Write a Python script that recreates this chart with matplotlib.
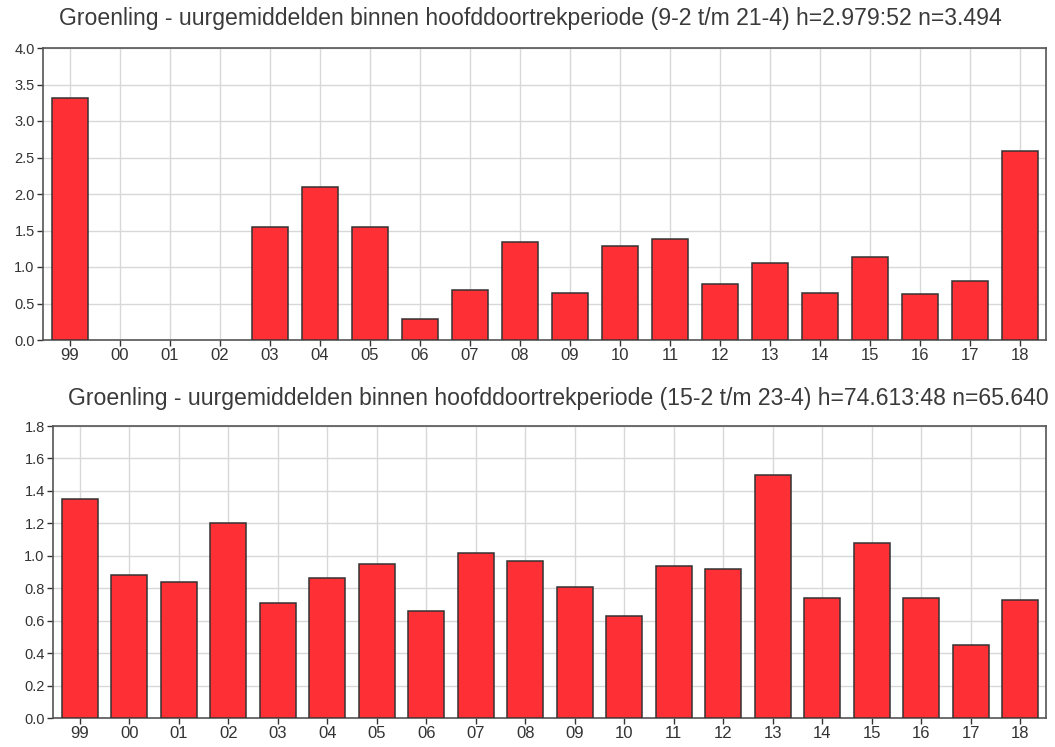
import matplotlib
matplotlib.use("Agg")
import matplotlib.pyplot as plt
import numpy as np

plt.rcParams['font.family'] = ['Liberation Sans', 'DejaVu Sans']

years = ["99", "00", "01", "02", "03", "04", "05", "06", "07", "08",
         "09", "10", "11", "12", "13", "14", "15", "16", "17", "18"]
top_values = [3.31, 0, 0, 0, 1.55, 2.10, 1.55, 0.29, 0.69, 1.34,
              0.64, 1.29, 1.38, 0.77, 1.05, 0.64, 1.14, 0.63, 0.81, 2.59]
bottom_values = [1.35, 0.88, 0.84, 1.20, 0.71, 0.86, 0.95, 0.66, 1.02, 0.97,
                 0.81, 0.63, 0.94, 0.92, 1.50, 0.74, 1.08, 0.74, 0.45, 0.73]
top_title = "Groenling - uurgemiddelden binnen hoofddoortrekperiode (9-2 t/m 21-4) h=2.979:52 n=3.494"
bottom_title = "Groenling - uurgemiddelden binnen hoofddoortrekperiode (15-2 t/m 23-4) h=74.613:48 n=65.640"
top_yticks = [0.0, 0.5, 1.0, 1.5, 2.0, 2.5, 3.0, 3.5, 4.0]
bottom_yticks = [0.0, 0.2, 0.4, 0.6, 0.8, 1.0, 1.2, 1.4, 1.6, 1.8]

W, H = 1055, 747
fig = plt.figure(figsize=(W / 100, H / 100), dpi=100)

def make_axes(rect, values, yticks, ylabels_fmt):
    ax = fig.add_axes(rect)
    x = np.arange(len(years))
    lws = [1.1 if v > 0 else 0 for v in values]
    ax.bar(x, values, width=0.72, color="#FF3035", edgecolor="#333333",
           linewidth=lws, zorder=3)
    ax.set_xlim(-0.54, len(years) - 0.48)
    ax.set_ylim(yticks[0], yticks[-1])
    ax.set_xticks(x)
    ax.set_xticklabels(years, fontsize=12, color="#333333")
    ax.set_yticks(yticks)
    ax.set_yticklabels([ylabels_fmt.format(v) for v in yticks], fontsize=10.5,
                       color="#333333")
    ax.grid(True, color="#D8D8D8", linewidth=1.0, zorder=0)
    ax.set_axisbelow(True)
    for s in ax.spines.values():
        s.set_color("#555555")
        s.set_linewidth(1.2)
    ax.tick_params(axis="both", direction="out", length=4, width=1,
                   color="#333333", pad=2)
    return ax

ax1 = make_axes([43 / W, 1 - 340 / H, (1046 - 43) / W, (340 - 48) / H],
                top_values, top_yticks, "{:.1f}")
ax2 = make_axes([53 / W, 1 - 718 / H, (1046 - 53) / W, (718 - 426) / H],
                bottom_values, bottom_yticks, "{:.1f}")

fig.text(530 / W, 1 - 18 / H, top_title, ha="center", va="center",
         fontsize=16.6, color="#3a3a3a")
fig.text(558 / W, 1 - 399 / H, bottom_title, ha="center", va="center",
         fontsize=16.6, color="#3a3a3a")

fig.savefig("out.png", dpi=100)
